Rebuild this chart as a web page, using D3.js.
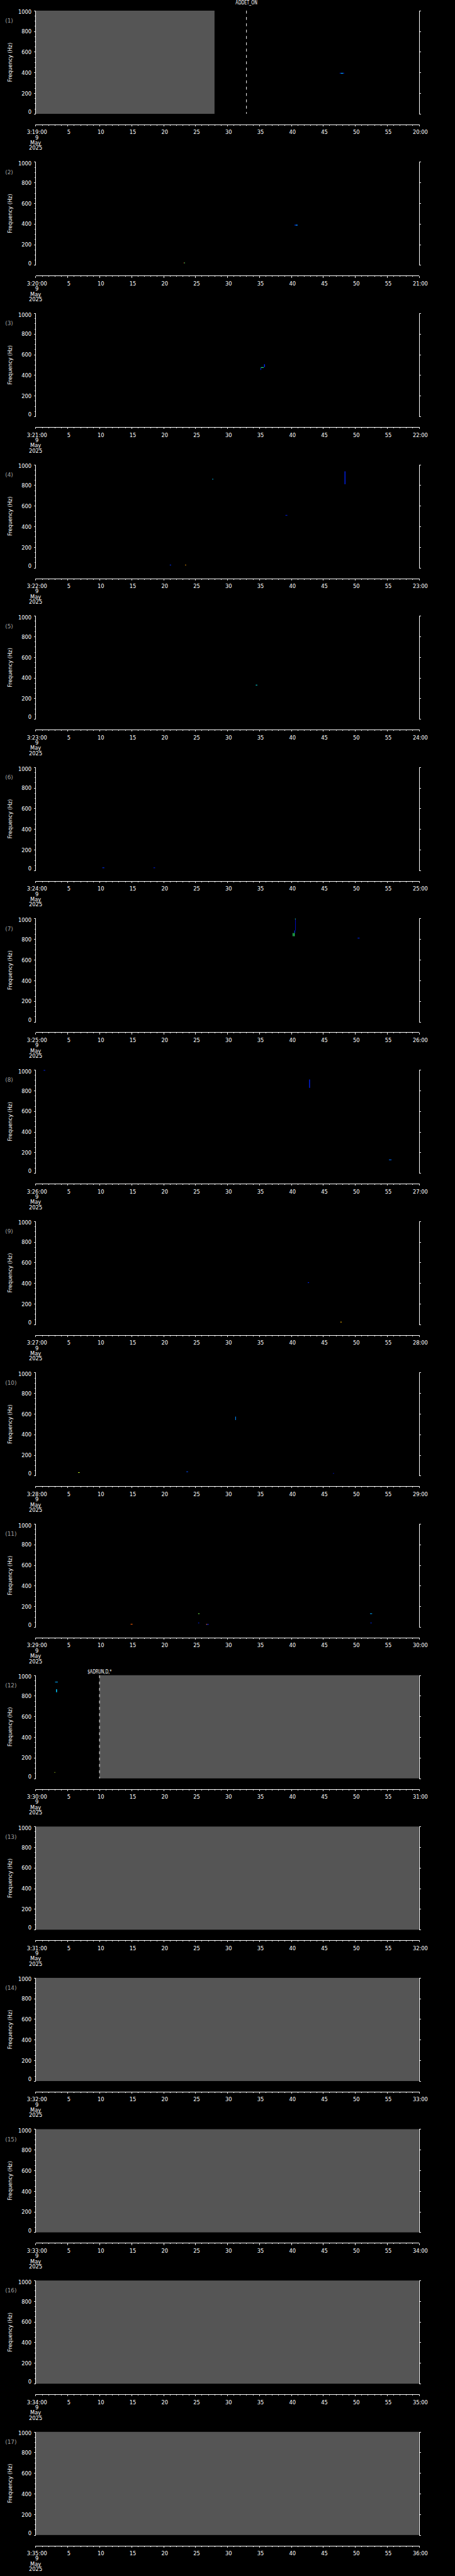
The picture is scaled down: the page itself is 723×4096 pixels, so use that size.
<!DOCTYPE html>
<html>
<head>
<meta charset="utf-8">
<script src="https://cdn.jsdelivr.net/npm/d3@7"></script>
<style>
  html, body { margin: 0; padding: 0; background: #000; }
  svg { display: block; }
</style>
</head>
<body>
<svg id="chart"></svg>
<script>
// One panel per minute, 9 May 2025, starting 3:19:00
const hour = 3;
const panelMinutes = [19, 20, 21, 22, 23, 24, 25, 26, 27, 28, 29, 30, 31, 32, 33, 34, 35];
const dateLines = ['9', 'May', '2025'];
const secondTicks = [0, 5, 10, 15, 20, 25, 30, 35, 40, 45, 50, 55, 60];
const freqTicks = [0, 200, 400, 600, 800, 1000];

// grey "no data" spans (seconds within the minute)
const fillPanel = [1, 12, 13, 14, 15, 16, 17];
const fillFrom = [0, 10, 0, 0, 0, 0, 0];
const fillTo = [28, 60, 60, 60, 60, 60, 60];

// event markers
const eventPanel = [1, 12];
const eventSecond = [33, 10];
const eventLabel = ['ADDET_ON', '$ADRUN,D,*'];

// spectrogram blips: panel, time span (s), frequency span (Hz), intensity level 0..1
const blipPanel = [1, 1, 2, 2, 2, 2, 3, 3, 3, 4, 4, 4, 4, 4, 5, 6, 6, 7, 7, 7, 7, 7, 7, 8, 8, 8, 9, 9, 10, 10, 10, 10, 11, 11, 11, 11, 11, 11, 11, 12, 12, 12];
const blipStart = [47.6, 47.8, 23.15, 23.25, 40.5, 40.7, 35.2, 35.25, 35.75, 27.65, 48.35, 39.1, 21.0, 23.4, 34.45, 10.45, 18.45, 40.25, 40.42, 40.5, 40.62, 40.6, 50.4, 1.25, 42.8, 55.3, 42.6, 47.7, 31.25, 6.65, 23.6, 46.55, 14.87, 25.44, 25.44, 26.7, 26.7, 52.34, 52.4, 3.05, 3.2, 2.95];
const blipEnd = [48.3, 48.1, 23.25, 23.38, 41.0, 41.0, 35.3, 35.7, 35.9, 27.8, 48.5, 39.4, 21.2, 23.55, 34.7, 10.75, 18.7, 40.32, 40.5, 40.58, 40.66, 40.7, 50.7, 1.5, 42.95, 55.7, 42.8, 47.9, 31.35, 6.9, 23.85, 46.7, 15.17, 25.65, 25.6, 27.1, 26.85, 52.67, 52.6, 3.47, 3.35, 3.05];
const blipLow = [392, 394, 22, 22, 388, 388, 451, 472, 478, 856, 810, 509, 27, 27, 328, 26, 26, 829, 829, 860, 885, 995, 810, 995, 826, 129, 405, 23, 540, 31, 39, 24, 27, 130, 40, 24, 27, 130, 40, 933, 835, 58];
const blipHigh = [397, 396, 25, 25, 391, 391, 470, 478, 506, 862, 935, 512, 30, 30, 333, 29, 29, 860, 860, 885, 1000, 1000, 814, 999, 907, 132, 408, 26, 573, 34, 42, 26, 31, 133, 43, 29, 30, 133, 43, 937, 864, 61];
const blipLevel = [0.2, 0.5, 1.0, 0.7, 0.2, 0.45, 0.2, 0.65, 0.2, 0.5, 0.15, 0.15, 0.25, 0.9, 0.55, 0.25, 0.15, 0.7, 0.7, 0.25, 0.05, 0.7, 0.2, 0.15, 0.15, 0.35, 0.2, 0.88, 0.4, 0.8, 0.3, 0.1, 0.95, 0.75, 0.2, 0.2, 0.95, 0.45, 0.2, 0.45, 0.5, 0.8];

// layout, in reference pixels (drawn at 0.705)
const scale = 0.705;
const margin = { left: 80.3, top: 24 };
const plotWidth = 864;
const plotHeight = 232.7;
const panelStep = 341.3;
const axisGap = 24;
const fontSize = 11.8;
const fontFamily = "'DejaVu Sans', sans-serif";
const fillColor = '#555555';
const labelGrey = '#a0a0a0';
const eventRise = [18, 8];
const eventWidth = [49, 54.5];

const blipColor = d3
  .scaleLinear()
  .domain([0, 0.25, 0.5, 0.7, 0.85, 1])
  .range(['#0000a0', '#0030ff', '#00c8ff', '#30ff70', '#ffe000', '#ff2000']);

const svg = d3.select('#chart').attr('width', 723).attr('height', 4096);
svg.append('rect').attr('width', 723).attr('height', 4096).attr('fill', '#000');
const root = svg.append('g').attr('transform', `scale(${scale})`);

const x = d3.scaleLinear().domain([0, 60]).range([0, plotWidth]);
const y = d3.scaleLinear().domain([0, 1000]).range([plotHeight, 0]);

const styleAxis = (g) => {
  g.attr('color', '#fff').attr('font-size', fontSize).attr('font-family', fontFamily);
  g.selectAll('path, line').attr('stroke-width', 1.3).attr('shape-rendering', 'crispEdges');
};

panelMinutes.forEach((minute, i) => {
  const panelNo = i + 1;
  const chart = root
    .append('g')
    .attr('transform', `translate(${margin.left},${margin.top + i * panelStep})`);

  // No-data fill
  fillPanel.forEach((p, j) => {
    if (p !== panelNo) return;
    chart
      .append('rect')
      .attr('x', x(fillFrom[j]))
      .attr('y', 0)
      .attr('width', x(fillTo[j]) - x(fillFrom[j]))
      .attr('height', plotHeight)
      .attr('fill', fillColor);
  });

  // Blips
  blipPanel.forEach((p, j) => {
    if (p !== panelNo) return;
    chart
      .append('rect')
      .attr('x', x(blipStart[j]))
      .attr('y', y(blipHigh[j]))
      .attr('width', Math.max(x(blipEnd[j]) - x(blipStart[j]), 1.5))
      .attr('height', Math.max(y(blipLow[j]) - y(blipHigh[j]), 1.5))
      .attr('fill', blipColor(blipLevel[j]));
  });

  // Event markers
  eventPanel.forEach((p, j) => {
    if (p !== panelNo) return;
    chart
      .append('line')
      .attr('x1', x(eventSecond[j]))
      .attr('x2', x(eventSecond[j]))
      .attr('y1', 0)
      .attr('y2', plotHeight)
      .attr('stroke', '#fff')
      .attr('stroke-width', 1.4)
      .attr('stroke-dasharray', '6.5 7.8');
    chart
      .append('text')
      .attr('x', x(eventSecond[j]))
      .attr('y', -eventRise[j])
      .attr('text-anchor', 'middle')
      .attr('dominant-baseline', 'central')
      .attr('font-family', fontFamily)
      .attr('font-size', 11.4)
      .attr('textLength', eventWidth[j])
      .attr('lengthAdjust', 'spacingAndGlyphs')
      .attr('fill', '#fff')
      .text(eventLabel[j]);
  });

  // Y axes (left labelled, right bare)
  const minorFreq = d3.range(50, 1000, 50).filter((f) => f % 200);
  chart
    .append('g')
    .call(d3.axisLeft(y).tickValues(minorFreq).tickSize(2.3).tickSizeOuter(0).tickFormat(''))
    .call(styleAxis);
  chart
    .append('g')
    .call(
      d3.axisLeft(y).tickValues(freqTicks).tickSize(4.3).tickPadding(5).tickSizeOuter(0).tickFormat(d3.format('d')),
    )
    .call(styleAxis)
    .selectAll('.tick text')
    .attr('dy', (f) => (f === 1000 ? '0.62em' : f === 0 ? '-0.05em' : '0.38em'));
  chart
    .append('g')
    .attr('transform', `translate(${plotWidth},0)`)
    .call(d3.axisRight(y).tickValues(minorFreq).tickSize(2.3).tickSizeOuter(0).tickFormat(''))
    .call(styleAxis);
  chart
    .append('g')
    .attr('transform', `translate(${plotWidth},0)`)
    .call(d3.axisRight(y).tickValues(freqTicks).tickSize(4.3).tickSizeOuter(0).tickFormat(''))
    .call(styleAxis);

  // X axis, offset below the plot
  const minorSec = d3.range(1, 60).filter((s) => s % 5);
  const tickLabel = (s) =>
    s === 0 ? `${hour}:${minute}:00` : s === 60 ? `${minute + 1}:00` : `${s}`;
  chart
    .append('g')
    .attr('transform', `translate(0,${plotHeight + axisGap})`)
    .call(d3.axisBottom(x).tickValues(minorSec).tickSize(2.6).tickSizeOuter(0).tickFormat(''))
    .call(styleAxis);
  const xAxis = chart
    .append('g')
    .attr('transform', `translate(0,${plotHeight + axisGap})`)
    .call(d3.axisBottom(x).tickValues(secondTicks).tickSize(4.3).tickSizeOuter(0).tickFormat(tickLabel))
    .call(styleAxis);
  xAxis.selectAll('.tick text').attr('x', 2.5).attr('y', 17.6).attr('dy', '0.36em');

  // Date under the first label
  dateLines.forEach((line, k) => {
    chart
      .append('text')
      .attr('x', k === 0 ? 2.8 : 0)
      .attr('y', plotHeight + axisGap + 29.4 + k * 11.9)
      .attr('text-anchor', 'middle')
      .attr('dominant-baseline', 'central')
      .attr('font-family', fontFamily)
      .attr('font-size', fontSize)
      .attr('fill', '#fff')
      .text(line);
  });

  // Y title and panel number
  chart
    .append('text')
    .attr('transform', `translate(${23.3 - margin.left},${plotHeight / 2}) rotate(-90)`)
    .attr('text-anchor', 'middle')
    .attr('dominant-baseline', 'central')
    .attr('font-family', fontFamily)
    .attr('font-size', fontSize)
    .attr('fill', '#fff')
    .text('Frequency (Hz)');
  chart
    .append('text')
    .attr('x', 11.7 - margin.left)
    .attr('y', 23)
    .attr('dominant-baseline', 'central')
    .attr('font-family', fontFamily)
    .attr('font-size', fontSize + 0.8)
    .attr('fill', labelGrey)
    .text(`(${panelNo})`);
});
</script>
</body>
</html>
